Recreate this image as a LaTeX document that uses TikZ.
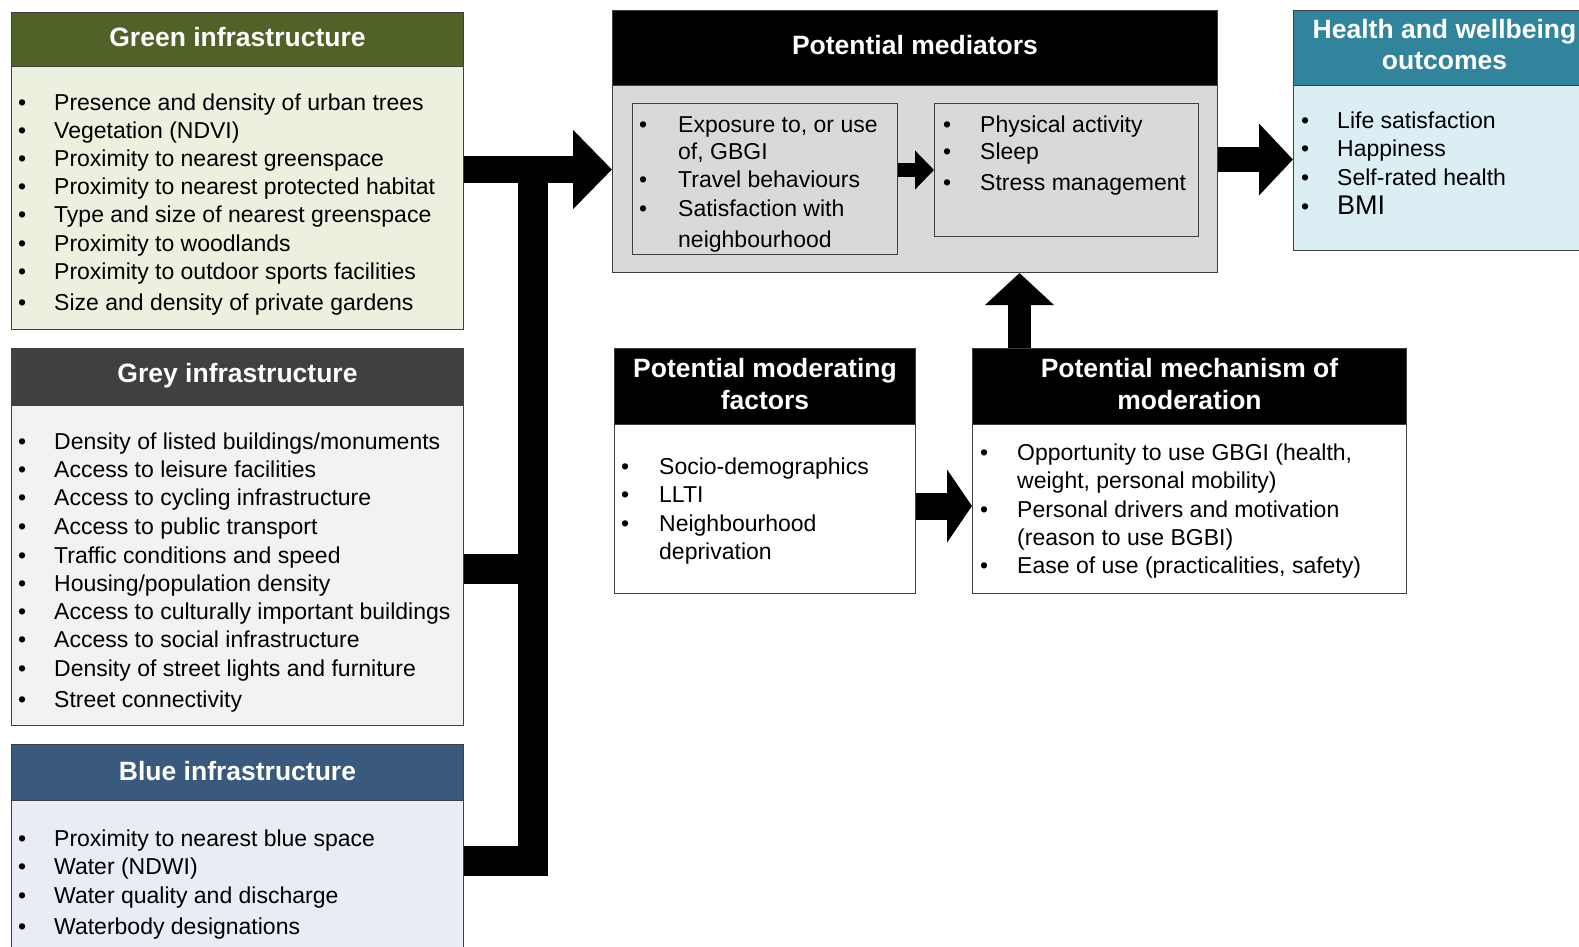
\documentclass[tikz,border=0pt]{standalone}
\usepackage{fontspec}
\setmainfont{Liberation Sans}
\usetikzlibrary{arrows.meta}
\definecolor{ghead}{HTML}{4F6228}
\definecolor{gbody}{HTML}{EBF1DE}
\definecolor{grhead}{HTML}{404040}
\definecolor{grbody}{HTML}{F2F2F2}
\definecolor{bhead}{HTML}{395A7C}
\definecolor{bbody}{HTML}{E8EDF5}
\definecolor{thead}{HTML}{31849B}
\definecolor{tbody}{HTML}{DAEEF3}
\definecolor{mbody}{HTML}{D9D9D9}
\definecolor{bord}{HTML}{3F3F3F}
\newcommand\itf{\fontsize{23}{27}\selectfont}
\newcommand\hdf{\fontsize{26.5}{31.5}\selectfont\bfseries}
\newcommand\bitem[5]{\node[bul] (#1b) at (#2,#4+8) {•}; \node[itm] (#1) at (#3,#4+8) {#5};}
\newcommand\citem[4]{\node[itm] (#1) at (#2,#3+8) {#4};}
\newcommand\hdr[8]{\node[hbox, fill=#2, minimum width=#5, minimum height=#6] (#1) at (#3,#4) {};
  \node[htxt] (#1t) at ([yshift=#7]#1.center) {#8};}
\begin{document}
\begin{tikzpicture}[x=1pt,y=-1pt,
  box/.style={draw=bord, line width=1pt, rectangle, inner sep=0pt, anchor=north west},
  hbox/.style={box},
  htxt/.style={text=white, font=\hdf, align=center, inner sep=0pt, anchor=center},
  bul/.style={anchor=base west, inner sep=0pt, font=\itf},
  itm/.style={anchor=base west, inner sep=0pt, font=\itf},
  bus/.style={line width=30pt, line join=miter},
]
\useasboundingbox (0,0) rectangle (1579,946);
\clip (0,0) rectangle (1579,946);
\fill[white] (0,0) rectangle (1579,946);

% ---- Green ----
\hdr{gh}{ghead}{11}{12}{452}{54}{2pt}{Green infrastructure}
\node[box, fill=gbody, minimum width=452, minimum height=263] (gb) at (11,66) {};
\bitem{g1}{18}{54}{102}{Presence and density of urban trees}
\bitem{g2}{18}{54}{130}{Vegetation (NDVI)}
\bitem{g3}{18}{54}{158}{Proximity to nearest greenspace}
\bitem{g4}{18}{54}{186}{Proximity to nearest protected habitat}
\bitem{g5}{18}{54}{214}{Type and size of nearest greenspace}
\bitem{g6}{18}{54}{243}{Proximity to woodlands}
\bitem{g7}{18}{54}{271}{Proximity to outdoor sports facilities}
\bitem{g8}{18}{54}{302}{Size and density of private gardens}

% ---- Grey ----
\hdr{grh}{grhead}{11}{348}{452}{57}{1pt}{Grey infrastructure}
\node[box, fill=grbody, minimum width=452, minimum height=320] (grb) at (11,405) {};
\bitem{r1}{18}{54}{441}{Density of listed buildings/monuments}
\bitem{r2}{18}{54}{469}{Access to leisure facilities}
\bitem{r3}{18}{54}{497}{Access to cycling infrastructure}
\bitem{r4}{18}{54}{526}{Access to public transport}
\bitem{r5}{18}{54}{555}{Traffic conditions and speed}
\bitem{r6}{18}{54}{583}{Housing/population density}
\bitem{r7}{18}{54}{611}{Access to culturally important buildings}
\bitem{r8}{18}{54}{639}{Access to social infrastructure}
\bitem{r9}{18}{54}{668}{Density of street lights and furniture}
\bitem{r10}{18}{54}{699}{Street connectivity}

% ---- Blue ----
\hdr{bh}{bhead}{11}{744}{452}{56}{1pt}{Blue infrastructure}
\node[box, fill=bbody, minimum width=452, minimum height=170] (bb) at (11,800) {};
\bitem{b1}{18}{54}{838}{Proximity to nearest blue space}
\bitem{b2}{18}{54}{866}{Water (NDWI)}
\bitem{b3}{18}{54}{895}{Water quality and discharge}
\bitem{b4}{18}{54}{926}{Waterbody designations}

% ---- Mediators ----
\hdr{mh}{black}{612}{10}{605}{75}{3pt}{Potential mediators}
\node[box, fill=mbody, minimum width=605, minimum height=187] (mb) at (612,85) {};
\node[box, fill=mbody, minimum width=265, minimum height=151] (in1) at (632,103) {};
\node[box, fill=mbody, minimum width=264, minimum height=133] (in2) at (934,103) {};
\bitem{m1}{639}{678}{124}{Exposure to, or use}
\citem{m1c}{678}{151}{of, GBGI}
\bitem{m2}{639}{678}{179}{Travel behaviours}
\bitem{m3}{639}{678}{208}{Satisfaction with}
\citem{m3c}{678}{239}{neighbourhood}
\bitem{n1}{943}{980}{124}{Physical activity}
\bitem{n2}{943}{980}{151}{Sleep}
\bitem{n3}{943}{980}{182}{Stress management}

% ---- Health ----
\hdr{hh}{thead}{1293}{10}{302}{75}{3.5pt}{Health and wellbeing\\outcomes}
\node[box, fill=tbody, minimum width=302, minimum height=165] (hb) at (1293,85) {};
\bitem{h1}{1301}{1337}{120}{Life satisfaction}
\bitem{h2}{1301}{1337}{148}{Happiness}
\bitem{h3}{1301}{1337}{177}{Self-rated health}
\bitem{h4}{1301}{1337}{206}{\fontsize{27}{30}\selectfont BMI}

% ---- Moderating ----
\hdr{dh}{black}{614}{348}{301}{76}{2.5pt}{Potential moderating\\factors}
\node[box, fill=white, minimum width=301, minimum height=169] (db) at (614,424) {};
\bitem{d1}{621}{659}{466}{Socio-demographics}
\bitem{d2}{621}{659}{494}{LLTI}
\bitem{d3}{621}{659}{523}{Neighbourhood}
\citem{d3c}{659}{551}{deprivation}

% ---- Mechanism ----
\hdr{eh}{black}{972}{348}{434}{76}{2.5pt}{Potential mechanism of\\moderation}
\node[box, fill=white, minimum width=434, minimum height=169] (eb) at (972,424) {};
\bitem{e1}{980}{1017}{452}{Opportunity to use GBGI (health,}
\citem{e1c}{1017}{480}{weight, personal mobility)}
\bitem{e2}{980}{1017}{509}{Personal drivers and motivation}
\citem{e2c}{1017}{537}{(reason to use BGBI)}
\bitem{e3}{980}{1017}{565}{Ease of use (practicalities, safety)}

% ---- Connectors ----
\coordinate (j1) at (533,169.5);
\coordinate (j2) at (533,569);
\coordinate (j3) at (533,861);
\draw[bus] (bb.east |- j3) -- (j3) -- (j1);
\draw[bus] (grb.east |- j2) -- (j2);
\draw[line width=27pt, -{Triangle[length=39pt,width=77pt]}] (gb.east |- j1) -- (mb.west |- j1);

\coordinate (c1) at (0,170);
\draw[line width=14pt, -{Triangle[length=19pt,width=38pt]}] (in1.east |- c1) -- (in2.west |- c1);

\coordinate (c2) at (0,159.5);
\draw[line width=25pt, -{Triangle[length=34pt,width=70pt]}] (mb.east |- c2) -- (hb.west |- c2);

\coordinate (c3) at (0,506);
\draw[line width=27pt, -{Triangle[length=25pt,width=72pt]}] (db.east |- c3) -- (eb.west |- c3);

\coordinate (c4) at (1019.5,0);
\draw[line width=23pt, -{Triangle[length=32pt,width=67pt]}] (eh.north -| c4) -- (mb.south -| c4);
\end{tikzpicture}
\end{document}
